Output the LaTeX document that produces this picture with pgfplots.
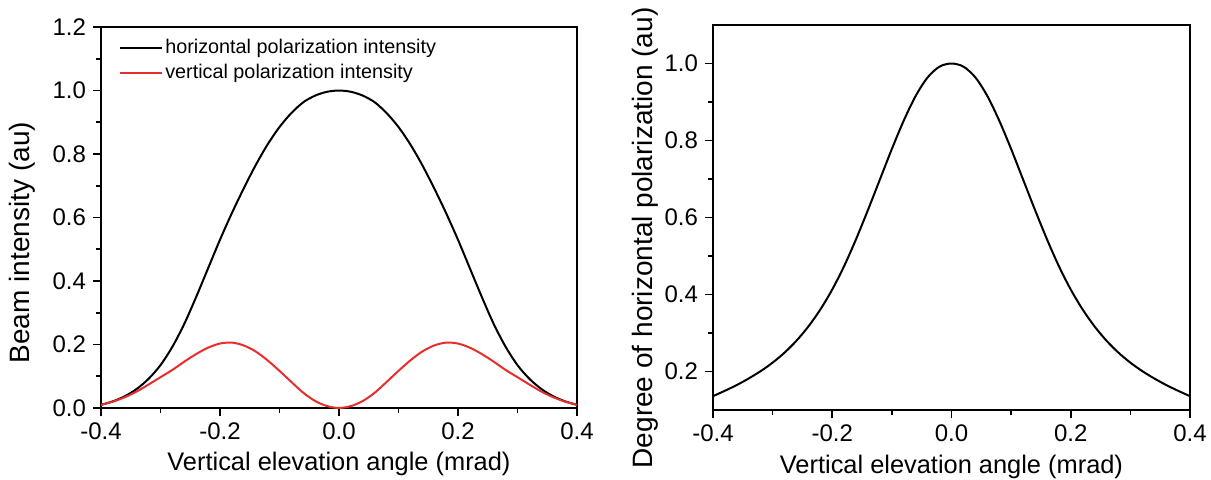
\documentclass[border=0pt]{standalone}
\usepackage{fontspec}
\setmainfont{Liberation Sans}
\usepackage{pgfplots}
\pgfplotsset{compat=1.18}
\definecolor{vcurve}{RGB}{232,45,45}

\pgfplotsset{
  panel/.style={
    scale only axis,
    xmin=-0.4, xmax=0.4,
    xtick={-0.4,-0.2,0,0.2,0.4},
    minor x tick num=1, minor y tick num=1,
    tick align=outside, xtick pos=bottom, ytick pos=left,
    major tick length=4pt, minor tick length=2.5pt,
    axis line style={line width=0.8pt},
    every tick/.style={black, line width=0.8pt},
    tick label style={font=\fontsize{12}{14}\selectfont},
    /pgf/number format/assume math mode=true,
    xticklabel style={/pgf/number format/.cd, fixed, fixed zerofill, precision=1},
    yticklabel style={/pgf/number format/.cd, fixed, fixed zerofill, precision=1},
    xlabel={Vertical elevation angle (mrad)},
    xlabel style={font=\fontsize{12.7}{15}\selectfont, at={(axis description cs:0.5,-0.147)}, anchor=center},
    ylabel style={font=\fontsize{14}{16}\selectfont, anchor=center},
  },
}

\begin{document}
\begin{tikzpicture}
% left panel: horizontal / vertical intensity
\begin{axis}[
    panel,
    width=238pt, height=190.5pt,
    ymin=0, ymax=1.2,
    ytick={0,0.2,0.4,0.6,0.8,1.0,1.2},
    ylabel={Beam intensity (au)},
    ylabel style={at={(axis description cs:-0.166,0.434)}},
    legend style={draw=none, fill=none, at={(axis description cs:0.025,0.985)},
        anchor=north west, font=\fontsize{9.9}{12}\selectfont, row sep=1.5pt,
        nodes={inner sep=1pt, text height=7pt, text depth=2pt}},
    legend cell align=left,
    legend image code/.code={\draw[#1] (0pt,0pt) -- (21pt,0pt);},
]
\addplot[black, line width=1pt, smooth] coordinates {
    (-0.40,0.010) (-0.38,0.021) (-0.36,0.037) (-0.34,0.060) (-0.32,0.092)
    (-0.30,0.135) (-0.28,0.193) (-0.26,0.265) (-0.24,0.350) (-0.22,0.440)
    (-0.20,0.530) (-0.18,0.614) (-0.16,0.692) (-0.14,0.765) (-0.12,0.830)
    (-0.10,0.885) (-0.08,0.929) (-0.06,0.963) (-0.04,0.984) (-0.02,0.996)
    (0.00,1.000)
    (0.02,0.996) (0.04,0.984) (0.06,0.963) (0.08,0.929) (0.10,0.885)
    (0.12,0.830) (0.14,0.765) (0.16,0.692) (0.18,0.614) (0.20,0.530)
    (0.22,0.440) (0.24,0.350) (0.26,0.265) (0.28,0.193) (0.30,0.135)
    (0.32,0.092) (0.34,0.060) (0.36,0.037) (0.38,0.021) (0.40,0.010)
};
\addlegendentry{horizontal polarization intensity}
\addplot[vcurve, line width=1pt, smooth] coordinates {
    (-0.40,0.010) (-0.38,0.020) (-0.36,0.034) (-0.34,0.052) (-0.32,0.074)
    (-0.30,0.097) (-0.28,0.120) (-0.26,0.146) (-0.24,0.170) (-0.22,0.190)
    (-0.20,0.203) (-0.18,0.206) (-0.16,0.197) (-0.14,0.178) (-0.12,0.150)
    (-0.10,0.117) (-0.08,0.082) (-0.06,0.048) (-0.04,0.022) (-0.02,0.006)
    (0.00,0.000)
    (0.02,0.006) (0.04,0.022) (0.06,0.048) (0.08,0.082) (0.10,0.117)
    (0.12,0.150) (0.14,0.178) (0.16,0.197) (0.18,0.206) (0.20,0.203)
    (0.22,0.190) (0.24,0.170) (0.26,0.146) (0.28,0.120) (0.30,0.097)
    (0.32,0.074) (0.34,0.052) (0.36,0.034) (0.38,0.020) (0.40,0.010)
};
\addlegendentry{vertical polarization intensity}
\end{axis}

% right panel: degree of horizontal polarization
\begin{axis}[
    panel,
    at={(306pt,-1pt)},
    width=238.5pt, height=192.5pt,
    ymin=0.1, ymax=1.1,
    ytick={0.2,0.4,0.6,0.8,1.0},
    ylabel={Degree of horizontal polarization (au)},
    ylabel style={at={(axis description cs:-0.143,0.447)}},
]
\addplot[black, line width=1pt, smooth] coordinates {
    (-0.40,0.136) (-0.38,0.150) (-0.36,0.165) (-0.34,0.182) (-0.32,0.201)
    (-0.30,0.223) (-0.28,0.249) (-0.26,0.280) (-0.24,0.317) (-0.22,0.361)
    (-0.20,0.413) (-0.18,0.474) (-0.16,0.544) (-0.14,0.620) (-0.12,0.699)
    (-0.10,0.778) (-0.08,0.852) (-0.06,0.916) (-0.04,0.964) (-0.02,0.992)
    (0.00,1.000)
    (0.02,0.992) (0.04,0.964) (0.06,0.916) (0.08,0.852) (0.10,0.778)
    (0.12,0.699) (0.14,0.620) (0.16,0.544) (0.18,0.474) (0.20,0.413)
    (0.22,0.361) (0.24,0.317) (0.26,0.280) (0.28,0.249) (0.30,0.223)
    (0.32,0.201) (0.34,0.182) (0.36,0.165) (0.38,0.150) (0.40,0.136)
};
\end{axis}
\pgfresetboundingbox
\useasboundingbox (-50.5pt,-35.5pt) rectangle (555pt,204pt);
\end{tikzpicture}
\end{document}
